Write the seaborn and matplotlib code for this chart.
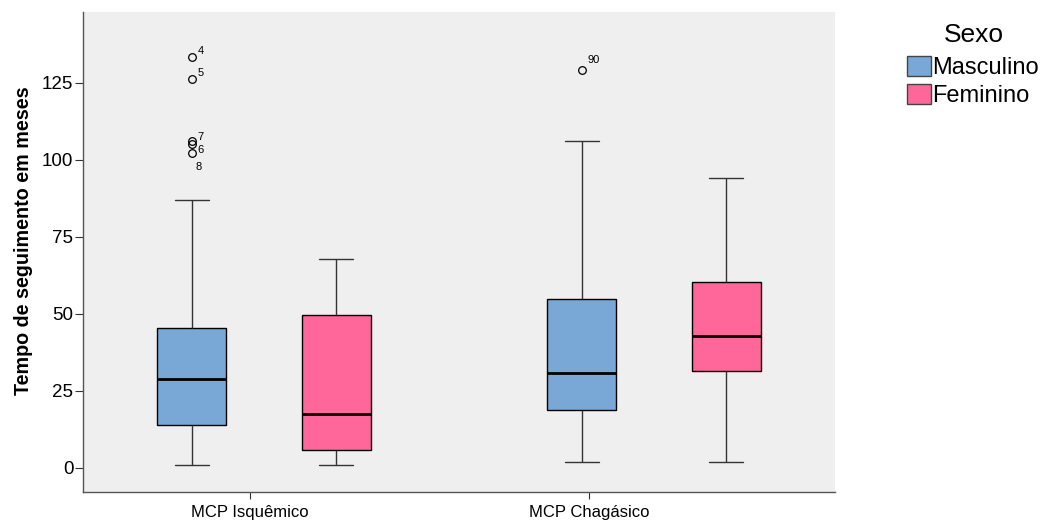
import numpy as np
import pandas as pd
import matplotlib
matplotlib.use("Agg")
import matplotlib.pyplot as plt
import seaborn as sns

# ---- data ----
categories = ["MCP Isquêmico", "MCP Chagásico"]
sexes = ["Masculino", "Feminino"]
# five-number summaries: whisker low, Q1, median, Q3, whisker high
isq_masc = [1, 14, 28.9, 45.5, 87]
isq_fem = [1, 5.8, 17.5, 49.7, 67.9]
chag_masc = [2, 18.8, 30.8, 54.9, 106.2]
chag_fem = [2, 31.5, 42.9, 60.4, 94.2]
# outliers (value) and their case labels
isq_masc_out = [133.4, 126.3, 106.0, 105.0, 102.3]
isq_masc_out_lab = ["4", "5", "7", "6", "8"]
chag_masc_out = [129.2]
chag_masc_out_lab = ["90"]
y_ticks = [0, 25, 50, 75, 100, 125]


def sample_from_summary(summary, outliers):
    lo, q1, med, q3, hi = summary
    m = len(outliers)
    k = m + 1
    return [lo] * k + [q1] * k + [med] * k + [q3] * (k - m) + [hi] + list(outliers)


groups = [
    (categories[0], sexes[0], isq_masc, isq_masc_out),
    (categories[0], sexes[1], isq_fem, []),
    (categories[1], sexes[0], chag_masc, chag_masc_out),
    (categories[1], sexes[1], chag_fem, []),
]
rows = []
for cat, sex, summ, outs in groups:
    for v in sample_from_summary(summ, outs):
        rows.append({"Grupo": cat, "Sexo": sex, "Tempo": v})
df = pd.DataFrame(rows)

sns.set_style("white")
plt.rcParams["font.family"] = ["Liberation Sans", "DejaVu Sans"]
plt.rcParams["text.color"] = "black"
plt.rcParams["axes.labelcolor"] = "black"
plt.rcParams["xtick.color"] = "black"
plt.rcParams["ytick.color"] = "black"

fig = plt.figure(figsize=(10.42, 5.21), dpi=100)
ax = fig.add_axes([83 / 1042, 1 - 492 / 521, (835 - 83) / 1042, (492 - 12) / 521])
ax.set_facecolor("#efefef")

palette = {"Masculino": "#79a7d6", "Feminino": "#ff6699"}
sns.boxplot(
    data=df, x="Grupo", y="Tempo", hue="Sexo", order=categories, hue_order=sexes,
    palette=palette, width=0.74, gap=0.52, whis=1.5, saturation=1, ax=ax,
    linecolor="black", linewidth=1.0,
    medianprops=dict(color="black", linewidth=2),
    whiskerprops=dict(color="#333333", linewidth=1),
    capprops=dict(color="#333333", linewidth=1),
    flierprops=dict(marker="o", markersize=5.5, markerfacecolor="none",
                    markeredgecolor="black", markeredgewidth=0.9),
    legend=True,
)

# outlier labels
offsets_isq = [(4, 4), (4, 4), (4, 3), (4, -4), (3, -10)]
for v, lab, off in zip(isq_masc_out, isq_masc_out_lab, offsets_isq):
    ax.annotate(lab, (-0.185, v), xytext=off, textcoords="offset points",
                fontsize=8, va="center", ha="left")
for v, lab in zip(chag_masc_out, chag_masc_out_lab):
    ax.annotate(lab, (1 - 0.185, v), xytext=(4, 7), textcoords="offset points",
                fontsize=8, va="center", ha="left")

ax.set_xlim(-0.464, 1.464)
ax.set_ylim(-7.8, 148)
ax.set_yticks(y_ticks)
ax.set_xticks([-0.036, 0.833])
ax.set_xticklabels(categories, fontsize=12)
ax.tick_params(axis="y", labelsize=13.5, length=6, width=0.8, color="#333333", left=True, pad=1)
ax.tick_params(axis="x", length=5, width=0.8, color="#333333", bottom=True, pad=4.5)
ax.set_xlabel("")
ax.set_ylabel("Tempo de seguimento em meses", fontsize=14.2, fontweight="bold")
ax.yaxis.set_label_coords(-0.066, 0.523)
for s in ["top", "right"]:
    ax.spines[s].set_visible(False)
for s in ["left", "bottom"]:
    ax.spines[s].set_color("#555555")
    ax.spines[s].set_linewidth(1)

leg = ax.legend(loc="upper left", bbox_to_anchor=(907 / 1042, 1 - 56 / 521),
                bbox_transform=fig.transFigure,
                frameon=False, fontsize=17,
                handlelength=1.0, handleheight=0.95, handletextpad=0.08,
                labelspacing=0.2, borderaxespad=0, borderpad=0)
for h in leg.legend_handles:
    h.set_edgecolor("#444444")
fig.text(974 / 1042, 1 - 42 / 521, "Sexo", fontsize=19, ha="center", va="baseline")

fig.savefig("out.png", dpi=100)
